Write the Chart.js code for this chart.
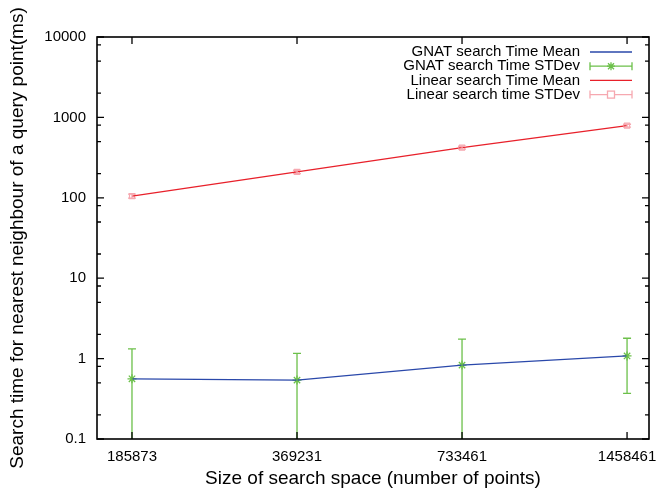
<!DOCTYPE html>
<html lang="en">
<head>
    <meta charset="UTF-8">
    <title>GNAT vs Linear search time</title>
    <script src="https://cdn.jsdelivr.net/npm/chart.js"></script>
    <style>
        body { margin: 0; background: #fff; }
    </style>
</head>
<body>
    <canvas id="searchChart" width="656" height="491"></canvas>

    <script>
        // search space sizes (x categories)
        const spaceSizes = ['185873', '369231', '733461', '1458461'];

        // GNAT search time (ms)
        const gnatMean = [0.56, 0.54, 0.83, 1.08];
        const gnatStd = [0.76, 0.62, 0.92, 0.71];

        // linear search time (ms)
        const linearMean = [105, 210, 420, 790];
        const linearStd = [6, 10, 18, 32];

        const yMajorTicks = [0.1, 1, 10, 100, 1000, 10000];
        const yMinorFactors = [2, 5, 8];

        const xIdx = spaceSizes.map((s, i) => i);
        const toPoints = arr => arr.map((v, i) => ({ x: xIdx[i], y: v }));

        const blue = 'rgb(42, 72, 170)';
        const green = 'rgb(108, 192, 74)';
        const red = 'rgb(232, 32, 42)';
        const pink = 'rgb(246, 168, 176)';
        const fontFamily = '"Liberation Sans", Arial, sans-serif';

        // error bars drawn from the std arrays using the chart scales
        const errorBars = {
            id: 'errorBars',
            afterDatasetsDraw(chart) {
                const ctx = chart.ctx;
                const xs = chart.scales.x, ys = chart.scales.y;
                const area = chart.chartArea;
                ctx.save();
                ctx.beginPath();
                ctx.rect(area.left, area.top, area.right - area.left, area.bottom - area.top);
                ctx.clip();
                chart.data.datasets.forEach(ds => {
                    if (!ds.errors) return;
                    ctx.strokeStyle = ds.borderColor;
                    ctx.lineWidth = 1.3;
                    ds.data.forEach((p, i) => {
                        const x = xs.getPixelForValue(p.x);
                        const hi = p.y + ds.errors[i];
                        const lo = p.y - ds.errors[i];
                        const yHi = ys.getPixelForValue(hi);
                        const yLo = lo > 0 ? ys.getPixelForValue(lo) : area.bottom + 5;
                        ctx.beginPath();
                        ctx.moveTo(x, yLo); ctx.lineTo(x, yHi);
                        ctx.moveTo(x - 4, yHi); ctx.lineTo(x + 4, yHi);
                        if (lo > 0) { ctx.moveTo(x - 4, yLo); ctx.lineTo(x + 4, yLo); }
                        ctx.stroke();
                    });
                });
                ctx.restore();
            }
        };

        // gnuplot style frame with inward ticks, plus the key
        const frame = {
            id: 'frame',
            afterDraw(chart) {
                const ctx = chart.ctx;
                const a = chart.chartArea;
                const xs = chart.scales.x, ys = chart.scales.y;
                ctx.save();
                ctx.strokeStyle = '#000';
                ctx.lineWidth = 1.6;
                ctx.strokeRect(a.left, a.top, a.right - a.left, a.bottom - a.top);
                ctx.lineWidth = 1.3;
                ctx.beginPath();
                yMajorTicks.forEach(v => {
                    const y = ys.getPixelForValue(v);
                    ctx.moveTo(a.left, y); ctx.lineTo(a.left + 7, y);
                    ctx.moveTo(a.right, y); ctx.lineTo(a.right - 7, y);
                });
                yMajorTicks.slice(0, -1).forEach(d => {
                    yMinorFactors.forEach(f => {
                        const y = ys.getPixelForValue(d * f);
                        ctx.moveTo(a.left, y); ctx.lineTo(a.left + 4, y);
                        ctx.moveTo(a.right, y); ctx.lineTo(a.right - 4, y);
                    });
                });
                xIdx.forEach(v => {
                    const x = xs.getPixelForValue(v);
                    ctx.moveTo(x, a.bottom); ctx.lineTo(x, a.bottom - 7);
                    ctx.moveTo(x, a.top); ctx.lineTo(x, a.top + 7);
                });
                ctx.stroke();

                // key: right aligned text with sample to the right
                ctx.font = '15px ' + fontFamily;
                ctx.textAlign = 'right';
                ctx.textBaseline = 'middle';
                const x0 = 590, x1 = 632;
                chart.data.datasets.forEach((ds, i) => {
                    const y = 52 + i * 14.2;
                    ctx.fillStyle = '#000';
                    ctx.fillText(ds.label, 580, y);
                    ctx.strokeStyle = ds.borderColor;
                    ctx.lineWidth = 1.3;
                    ctx.beginPath();
                    ctx.moveTo(x0, y); ctx.lineTo(x1, y);
                    if (ds.errors) {
                        ctx.moveTo(x0, y - 4); ctx.lineTo(x0, y + 4);
                        ctx.moveTo(x1, y - 4); ctx.lineTo(x1, y + 4);
                    }
                    ctx.stroke();
                    if (ds.errors) {
                        const mx = (x0 + x1) / 2;
                        ctx.beginPath();
                        if (ds.pointStyle === 'rect') {
                            ctx.fillStyle = '#fff';
                            ctx.fillRect(mx - 3.5, y - 3.5, 7, 7);
                            ctx.strokeRect(mx - 3.5, y - 3.5, 7, 7);
                        } else {
                            ctx.moveTo(mx - 4, y); ctx.lineTo(mx + 4, y);
                            ctx.moveTo(mx, y - 4); ctx.lineTo(mx, y + 4);
                            ctx.moveTo(mx - 3, y - 3); ctx.lineTo(mx + 3, y + 3);
                            ctx.moveTo(mx - 3, y + 3); ctx.lineTo(mx + 3, y - 3);
                            ctx.stroke();
                        }
                    }
                });
                ctx.restore();
            }
        };

        const ctx = document.getElementById('searchChart').getContext('2d');
        new Chart(ctx, {
            type: 'line',
            data: {
                datasets: [
                    {
                        label: 'GNAT search Time Mean',
                        data: toPoints(gnatMean),
                        borderColor: blue,
                        borderWidth: 1.3,
                        pointRadius: 0,
                        fill: false
                    },
                    {
                        label: 'GNAT search Time STDev',
                        data: toPoints(gnatMean),
                        errors: gnatStd,
                        borderColor: green,
                        backgroundColor: green,
                        showLine: false,
                        pointStyle: 'star',
                        pointRadius: 4.5,
                        pointBorderWidth: 1.3
                    },
                    {
                        label: 'Linear search Time Mean',
                        data: toPoints(linearMean),
                        borderColor: red,
                        borderWidth: 1.3,
                        pointRadius: 0,
                        fill: false
                    },
                    {
                        label: 'Linear search time STDev',
                        data: toPoints(linearMean),
                        errors: linearStd,
                        borderColor: pink,
                        backgroundColor: 'rgba(255,255,255,0)',
                        showLine: false,
                        pointStyle: 'rect',
                        pointRadius: 3.5,
                        pointBorderWidth: 1.2
                    }
                ]
            },
            options: {
                responsive: false,
                animation: false,
                layout: { padding: { top: 37, right: 7, left: 0, bottom: 0 } },
                plugins: {
                    legend: { display: false },
                    tooltip: { enabled: false }
                },
                scales: {
                    x: {
                        type: 'linear',
                        min: -0.212,
                        max: 3.133,
                        grid: { display: false, drawTicks: false },
                        border: { display: false },
                        afterBuildTicks: s => { s.ticks = xIdx.map(v => ({ value: v })); },
                        afterFit: s => {
                            s.height = 52;
                            s.paddingLeft = 0;
                            s.paddingRight = 0;
                        },
                        ticks: {
                            padding: 9,
                            color: '#000',
                            font: { family: fontFamily, size: 15 },
                            maxRotation: 0,
                            callback: v => spaceSizes[v]
                        },
                        title: {
                            display: true,
                            text: 'Size of search space (number of points)',
                            color: '#000',
                            font: { family: fontFamily, size: 19 },
                            padding: { top: 0, bottom: 1 }
                        }
                    },
                    y: {
                        type: 'logarithmic',
                        min: 0.1,
                        max: 10000,
                        grid: { display: false, drawTicks: false },
                        border: { display: false },
                        afterBuildTicks: s => { s.ticks = yMajorTicks.map(v => ({ value: v })); },
                        afterFit: s => {
                            s.width = 97;
                            s.paddingTop = 0;
                            s.paddingBottom = 0;
                        },
                        ticks: {
                            padding: 11,
                            color: '#000',
                            font: { family: fontFamily, size: 15 },
                            callback: v => String(v)
                        },
                        title: {
                            display: true,
                            text: 'Search time for nearest neighbour of a query point(ms)',
                            color: '#000',
                            font: { family: fontFamily, size: 19 },
                            padding: { top: 6, bottom: 0 }
                        }
                    }
                }
            },
            plugins: [errorBars, frame]
        });
    </script>
</body>
</html>
